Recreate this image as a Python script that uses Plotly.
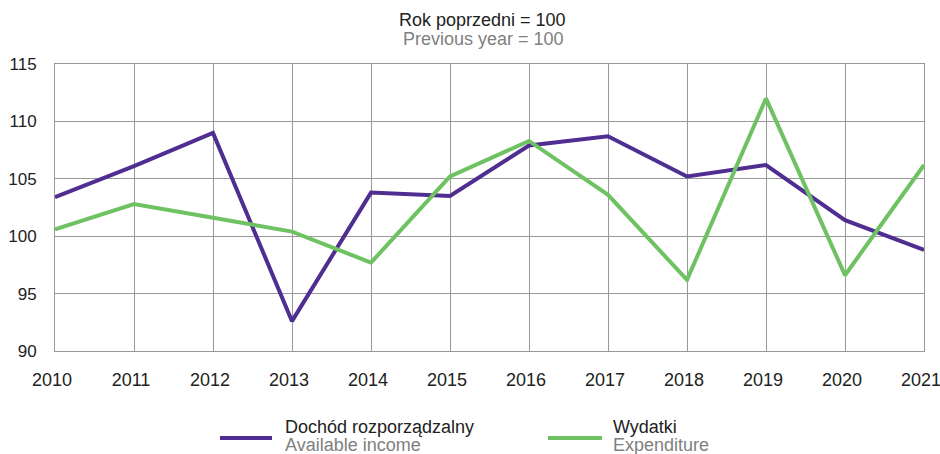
import plotly.graph_objects as go

years = [2010, 2011, 2012, 2013, 2014, 2015, 2016, 2017, 2018, 2019, 2020, 2021]
income = [103.4, 106.1, 109.0, 92.6, 103.8, 103.5, 107.9, 108.7, 105.2, 106.2, 101.4, 98.8]
expenditure = [100.6, 102.8, 101.6, 100.4, 97.7, 105.2, 108.3, 103.6, 96.2, 112.0, 96.6, 106.2]
y_ticks = [90, 95, 100, 105, 110, 115]

series_pl = ["Dochód rozporządzalny", "Wydatki"]
series_en = ["Available income", "Expenditure"]
title_pl = "Rok poprzedni = 100"
title_en = "Previous year = 100"

PURPLE = "#4f2d91"
GREEN = "#6ec262"
DARK = "#222222"
GREY = "#808080"
FONT = "Liberation Sans, Arial, sans-serif"

fig = go.Figure()
fig.add_trace(go.Scatter(x=years, y=income, mode="lines", name=series_pl[0],
                         line=dict(color=PURPLE, width=4)))
fig.add_trace(go.Scatter(x=years, y=expenditure, mode="lines", name=series_pl[1],
                         line=dict(color=GREEN, width=4)))

# plot area: x 55..924 px, y 64..351 px
def py(p):
    return (351 - p) / 287.0

def px(p):
    return (p - 55) / 869.0

annotations = [
    dict(text=title_pl, x=px(482.5), y=py(20), font=dict(size=18, color=DARK)),
    dict(text=title_en, x=px(483), y=py(39.5), font=dict(size=18, color=GREY)),
]
annotations = [dict(a, xref="paper", yref="paper", xanchor="center", yanchor="middle",
                    showarrow=False) for a in annotations]

legend_items = [
    (PURPLE, 220, 272, 283),
    (GREEN, 548, 602, 611),
]
shapes = []
for (col, x0, x1, tx), pl, en in zip(legend_items, series_pl, series_en):
    shapes.append(dict(type="line", xref="paper", yref="paper",
                       x0=px(x0), x1=px(x1), y0=py(438), y1=py(438),
                       line=dict(color=col, width=4)))
    annotations.append(dict(text=pl, xref="paper", yref="paper", x=px(tx), y=py(427),
                            xanchor="left", yanchor="middle", showarrow=False,
                            font=dict(size=18, color=DARK)))
    annotations.append(dict(text=en, xref="paper", yref="paper", x=px(tx), y=py(445),
                            xanchor="left", yanchor="middle", showarrow=False,
                            font=dict(size=18, color=GREY)))

fig.update_layout(
    width=940, height=454,
    margin=dict(l=55, r=16, t=64, b=103, autoexpand=False),
    paper_bgcolor="white", plot_bgcolor="white",
    font=dict(family=FONT, size=16, color=DARK),
    showlegend=False,
    annotations=annotations,
    shapes=shapes,
)
fig.update_xaxes(range=[years[0], years[-1]], tickvals=years, ticktext=[str(y) for y in years],
                 showgrid=True, gridcolor="#999", gridwidth=1,
                 showline=True, linecolor="#999", mirror=True, zeroline=False,
                 tickfont=dict(size=18, color=DARK), ticks="", ticklabelstandoff=12,
                 ticklabeloverflow="allow", ticklabelshift=-3)
fig.update_yaxes(range=[90, 115], tickvals=y_ticks,
                 showgrid=True, gridcolor="#999", gridwidth=1,
                 showline=True, linecolor="#999", mirror=True, zeroline=False,
                 tickfont=dict(size=17, color=DARK), ticks="", ticklabelstandoff=14)

fig.write_html("out.html", config={"displayModeBar": False},
               post_script="document.body.style.margin='0';document.body.style.overflow='hidden';")
